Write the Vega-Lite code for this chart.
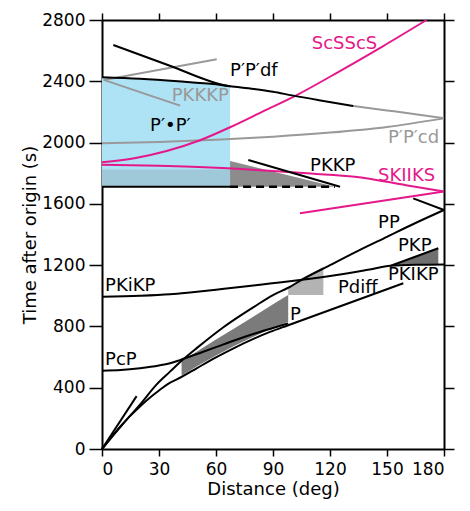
{
  "$schema": "https://vega.github.io/schema/vega-lite/v6.json",
  "width": 342,
  "height": 429,
  "autosize": {"type": "none"},
  "padding": {"left": 102, "top": 20, "right": 26, "bottom": 62},
  "background": "white",
  "config": {
    "view": {"stroke": null},
    "font": "DejaVu Sans",
    "axis": {
      "grid": false,
      "domainColor": "#000",
      "domainWidth": 2,
      "tickColor": "#000",
      "tickWidth": 1.5,
      "labelFont": "DejaVu Sans",
      "labelFontSize": 17,
      "labelColor": "#000",
      "titleFont": "DejaVu Sans",
      "titleFontSize": 18,
      "titleFontWeight": "normal",
      "titleColor": "#000"
    }
  },
  "datasets": {
    "blue": [
      {"d": 0, "t": 2426, "t2": 1712},
      {"d": 20, "t": 2416, "t2": 1712},
      {"d": 40, "t": 2400, "t2": 1712},
      {"d": 60, "t": 2380, "t2": 1712},
      {"d": 67.4, "t": 2368, "t2": 1712}
    ],
    "hatch": [
      {"d": 0, "t": 1825, "t2": 1712},
      {"d": 67.4, "t": 1825, "t2": 1712}
    ],
    "pkkpFill": [
      {"d": 67.4, "t": 1880, "t2": 1712},
      {"d": 122.6, "t": 1712, "t2": 1712}
    ],
    "wedgeP": [
      {"d": 41.9, "t": 575, "t2": 478},
      {"d": 50, "t": 637, "t2": 540},
      {"d": 60, "t": 714, "t2": 610},
      {"d": 70, "t": 790, "t2": 675},
      {"d": 80, "t": 867, "t2": 735},
      {"d": 90, "t": 944, "t2": 790},
      {"d": 98, "t": 1005, "t2": 830}
    ],
    "lightP": [
      {"d": 98, "t": 1049, "t2": 1005},
      {"d": 116.5, "t": 1190, "t2": 1005}
    ],
    "pkpFill": [
      {"d": 152, "t": 1197, "t2": 1196},
      {"d": 165, "t": 1257, "t2": 1203},
      {"d": 177, "t": 1310, "t2": 1205}
    ],
    "black": [
      {"c": "P", "d": 0, "t": 0}, {"c": "P", "d": 5, "t": 78}, {"c": "P", "d": 10, "t": 150},
      {"c": "P", "d": 15, "t": 218}, {"c": "P", "d": 20, "t": 278}, {"c": "P", "d": 25, "t": 333},
      {"c": "P", "d": 30, "t": 382}, {"c": "P", "d": 35, "t": 427}, {"c": "P", "d": 41.9, "t": 470},
      {"c": "P", "d": 50, "t": 528}, {"c": "P", "d": 60, "t": 598}, {"c": "P", "d": 70, "t": 662},
      {"c": "P", "d": 80, "t": 720}, {"c": "P", "d": 88.4, "t": 764}, {"c": "P", "d": 98, "t": 808},
      {"c": "P", "d": 158.6, "t": 1082},
      {"c": "PP", "d": 0, "t": 0}, {"c": "PP", "d": 10, "t": 150}, {"c": "PP", "d": 20, "t": 290},
      {"c": "PP", "d": 28.8, "t": 422}, {"c": "PP", "d": 35.8, "t": 505}, {"c": "PP", "d": 41, "t": 566},
      {"c": "PP", "d": 50, "t": 660}, {"c": "PP", "d": 63.9, "t": 795}, {"c": "PP", "d": 80, "t": 928},
      {"c": "PP", "d": 90, "t": 1005}, {"c": "PP", "d": 98.9, "t": 1058}, {"c": "PP", "d": 104.2, "t": 1098},
      {"c": "PP", "d": 120, "t": 1200}, {"c": "PP", "d": 135, "t": 1295}, {"c": "PP", "d": 150, "t": 1385},
      {"c": "PP", "d": 165, "t": 1475}, {"c": "PP", "d": 180, "t": 1560},
      {"c": "PPback", "d": 163.8, "t": 1636}, {"c": "PPback", "d": 180, "t": 1560},
      {"c": "near", "d": 0, "t": 0}, {"c": "near", "d": 18.2, "t": 345},
      {"c": "PcP", "d": 0, "t": 511}, {"c": "PcP", "d": 10, "t": 515}, {"c": "PcP", "d": 20, "t": 527},
      {"c": "PcP", "d": 30, "t": 545}, {"c": "PcP", "d": 35.8, "t": 560}, {"c": "PcP", "d": 41, "t": 580},
      {"c": "PcP", "d": 53.3, "t": 635}, {"c": "PcP", "d": 60, "t": 665}, {"c": "PcP", "d": 70, "t": 710},
      {"c": "PcP", "d": 80, "t": 752}, {"c": "PcP", "d": 90, "t": 790}, {"c": "PcP", "d": 98, "t": 820},
      {"c": "PKiKP", "d": 0, "t": 994}, {"c": "PKiKP", "d": 20, "t": 1000}, {"c": "PKiKP", "d": 35.8, "t": 1010},
      {"c": "PKiKP", "d": 46.3, "t": 1022}, {"c": "PKiKP", "d": 60, "t": 1040}, {"c": "PKiKP", "d": 75, "t": 1060},
      {"c": "PKiKP", "d": 88.4, "t": 1080}, {"c": "PKiKP", "d": 104.2, "t": 1103}, {"c": "PKiKP", "d": 123.5, "t": 1136},
      {"c": "PKiKP", "d": 140, "t": 1170}, {"c": "PKiKP", "d": 152, "t": 1196}, {"c": "PKiKP", "d": 165, "t": 1203},
      {"c": "PKiKP", "d": 180, "t": 1205},
      {"c": "PKP", "d": 152, "t": 1196}, {"c": "PKP", "d": 177, "t": 1310},
      {"c": "PKKP", "d": 77, "t": 1886}, {"c": "PKKP", "d": 125.3, "t": 1712},
      {"c": "dfA", "d": 5.96, "t": 2637}, {"c": "dfA", "d": 35, "t": 2505}, {"c": "dfA", "d": 63.9, "t": 2376},
      {"c": "dfA", "d": 67.4, "t": 2368},
      {"c": "dfB", "d": 0, "t": 2426}, {"c": "dfB", "d": 20, "t": 2416}, {"c": "dfB", "d": 40, "t": 2400},
      {"c": "dfB", "d": 60, "t": 2380}, {"c": "dfB", "d": 67.4, "t": 2368}, {"c": "dfB", "d": 80, "t": 2350},
      {"c": "dfB", "d": 90, "t": 2332}, {"c": "dfB", "d": 100, "t": 2308}, {"c": "dfB", "d": 115, "t": 2275},
      {"c": "dfB", "d": 132.3, "t": 2239},
      {"c": "base", "d": 0, "t": 1712}, {"c": "base", "d": 67.4, "t": 1712}
    ],
    "grey": [
      {"c": "dfC", "d": 132.3, "t": 2239}, {"c": "dfC", "d": 150, "t": 2210}, {"c": "dfC", "d": 165, "t": 2185},
      {"c": "dfC", "d": 180, "t": 2158},
      {"c": "cd", "d": 0, "t": 1995}, {"c": "cd", "d": 30, "t": 2003}, {"c": "cd", "d": 60, "t": 2018},
      {"c": "cd", "d": 90, "t": 2038}, {"c": "cd", "d": 120, "t": 2065}, {"c": "cd", "d": 150, "t": 2102},
      {"c": "cd", "d": 180, "t": 2158},
      {"c": "up", "d": 0.9, "t": 2409}, {"c": "up", "d": 60.4, "t": 2544},
      {"c": "PKKKP", "d": 0.9, "t": 2409}, {"c": "PKKKP", "d": 27, "t": 2300}, {"c": "PKKKP", "d": 41, "t": 2242}
    ],
    "pink": [
      {"c": "ScSScS", "d": 0, "t": 1872}, {"c": "ScSScS", "d": 17, "t": 1898}, {"c": "ScSScS", "d": 34, "t": 1945},
      {"c": "ScSScS", "d": 51.6, "t": 2015}, {"c": "ScSScS", "d": 67.4, "t": 2100}, {"c": "ScSScS", "d": 85, "t": 2205},
      {"c": "ScSScS", "d": 102.5, "t": 2310}, {"c": "ScSScS", "d": 125, "t": 2465}, {"c": "ScSScS", "d": 148, "t": 2630},
      {"c": "ScSScS", "d": 170.8, "t": 2800},
      {"c": "SKIIKS", "d": 0, "t": 1855}, {"c": "SKIIKS", "d": 30, "t": 1848}, {"c": "SKIIKS", "d": 60, "t": 1836},
      {"c": "SKIIKS", "d": 90, "t": 1815}, {"c": "SKIIKS", "d": 110, "t": 1798}, {"c": "SKIIKS", "d": 133, "t": 1777},
      {"c": "SKIIKS", "d": 160, "t": 1722}, {"c": "SKIIKS", "d": 180, "t": 1680},
      {"c": "SKIIKSback", "d": 104.2, "t": 1538}, {"c": "SKIIKSback", "d": 180, "t": 1680}
    ],
    "dash": [
      {"d": 67.4, "t": 1712}, {"d": 122.6, "t": 1712}
    ],
    "labelsBlack": [
      {"d": 67.4, "t": 2467, "label": "P′P′df"},
      {"d": 25.3, "t": 2105, "label": "P′•P′"},
      {"d": 109.5, "t": 1844, "label": "PKKP"},
      {"d": 145.3, "t": 1472, "label": "PP"},
      {"d": 155.8, "t": 1322, "label": "PKP"},
      {"d": 150.5, "t": 1136, "label": "PKIKP"},
      {"d": 124.2, "t": 1054, "label": "Pdiff"},
      {"d": 98.9, "t": 875, "label": "P"},
      {"d": 1.6, "t": 1067, "label": "PKiKP"},
      {"d": 1.6, "t": 578, "label": "PcP"}
    ],
    "labelsGrey": [
      {"d": 36.7, "t": 2304, "label": "PKKKP"},
      {"d": 150.5, "t": 2028, "label": "P′P′cd"}
    ],
    "labelsPink": [
      {"d": 110.4, "t": 2642, "label": "ScSScS"},
      {"d": 145.3, "t": 1779, "label": "SKIIKS"}
    ]
  },
  "resolve": {"axis": {"x": "independent", "y": "independent"}},
  "layer": [
    {
      "layer": [
        {
          "data": {"name": "blue"},
          "mark": {"type": "area", "color": "#aee2f5", "opacity": 1},
          "encoding": {
            "x": {"field": "d", "type": "quantitative", "scale": {"domain": [0, 180], "nice": false},
                  "axis": {"orient": "bottom", "values": [0, 30, 60, 90, 120, 150, 180], "format": "d", "title": "Distance (deg)", "tickSize": 7, "labelPadding": 5, "titlePadding": 3}},
            "y": {"field": "t", "type": "quantitative", "scale": {"domain": [0, 2800], "nice": false},
                  "axis": {"orient": "left", "values": [0, 400, 800, 1200, 1600, 2000, 2400, 2800], "format": "d", "title": "Time after origin (s)", "tickSize": 13, "labelPadding": 4, "titlePadding": 2}},
            "y2": {"field": "t2"}
          }
        },
        {
          "data": {"name": "hatch"},
          "mark": {"type": "area", "color": "#9fc8d8", "opacity": 1},
          "encoding": {"x": {"field": "d", "type": "quantitative"}, "y": {"field": "t", "type": "quantitative"}, "y2": {"field": "t2"}}
        },
        {
          "data": {"name": "pkkpFill"},
          "mark": {"type": "area", "color": "#8c8c8c", "opacity": 1},
          "encoding": {"x": {"field": "d", "type": "quantitative"}, "y": {"field": "t", "type": "quantitative"}, "y2": {"field": "t2"}}
        },
        {
          "data": {"name": "wedgeP"},
          "mark": {"type": "area", "color": "#7b7b7b", "opacity": 1},
          "encoding": {"x": {"field": "d", "type": "quantitative"}, "y": {"field": "t", "type": "quantitative"}, "y2": {"field": "t2"}}
        },
        {
          "data": {"name": "lightP"},
          "mark": {"type": "area", "color": "#b3b3b3", "opacity": 1},
          "encoding": {"x": {"field": "d", "type": "quantitative"}, "y": {"field": "t", "type": "quantitative"}, "y2": {"field": "t2"}}
        },
        {
          "data": {"name": "pkpFill"},
          "mark": {"type": "area", "color": "#707070", "opacity": 1},
          "encoding": {"x": {"field": "d", "type": "quantitative"}, "y": {"field": "t", "type": "quantitative"}, "y2": {"field": "t2"}}
        },
        {
          "data": {"name": "grey"},
          "mark": {"type": "line", "color": "#999999", "strokeWidth": 2, "interpolate": "monotone"},
          "encoding": {"x": {"field": "d", "type": "quantitative"}, "y": {"field": "t", "type": "quantitative"}, "detail": {"field": "c"}}
        },
        {
          "data": {"name": "pink"},
          "mark": {"type": "line", "color": "#e5188b", "strokeWidth": 2, "interpolate": "monotone"},
          "encoding": {"x": {"field": "d", "type": "quantitative"}, "y": {"field": "t", "type": "quantitative"}, "detail": {"field": "c"}}
        },
        {
          "data": {"name": "black"},
          "mark": {"type": "line", "color": "#000000", "strokeWidth": 2, "interpolate": "monotone"},
          "encoding": {"x": {"field": "d", "type": "quantitative"}, "y": {"field": "t", "type": "quantitative"}, "detail": {"field": "c"}}
        },
        {
          "data": {"name": "dash"},
          "mark": {"type": "line", "color": "#000000", "strokeWidth": 2.5, "strokeDash": [8, 5]},
          "encoding": {"x": {"field": "d", "type": "quantitative"}, "y": {"field": "t", "type": "quantitative"}}
        },
        {
          "data": {"name": "labelsBlack"},
          "mark": {"type": "text", "align": "left", "baseline": "middle", "fontSize": 18, "font": "DejaVu Sans", "color": "#000000"},
          "encoding": {"x": {"field": "d", "type": "quantitative"}, "y": {"field": "t", "type": "quantitative"}, "text": {"field": "label"}}
        },
        {
          "data": {"name": "labelsGrey"},
          "mark": {"type": "text", "align": "left", "baseline": "middle", "fontSize": 18, "font": "DejaVu Sans", "color": "#999999"},
          "encoding": {"x": {"field": "d", "type": "quantitative"}, "y": {"field": "t", "type": "quantitative"}, "text": {"field": "label"}}
        },
        {
          "data": {"name": "labelsPink"},
          "mark": {"type": "text", "align": "left", "baseline": "middle", "fontSize": 18, "font": "DejaVu Sans", "color": "#e5188b"},
          "encoding": {"x": {"field": "d", "type": "quantitative"}, "y": {"field": "t", "type": "quantitative"}, "text": {"field": "label"}}
        }
      ]
    },
    {
      "data": {"name": "dash"},
      "mark": {"type": "point", "opacity": 0},
      "encoding": {
        "x": {"field": "d", "type": "quantitative",
              "axis": {"orient": "top", "values": [0, 30, 60, 90, 120, 150, 180], "labels": false, "title": null, "tickSize": 7}},
        "y": {"field": "t", "type": "quantitative",
              "axis": {"orient": "right", "values": [0, 400, 800, 1200, 1600, 2000, 2400, 2800], "labels": false, "title": null, "tickSize": 10}}
      }
    }
  ]
}
